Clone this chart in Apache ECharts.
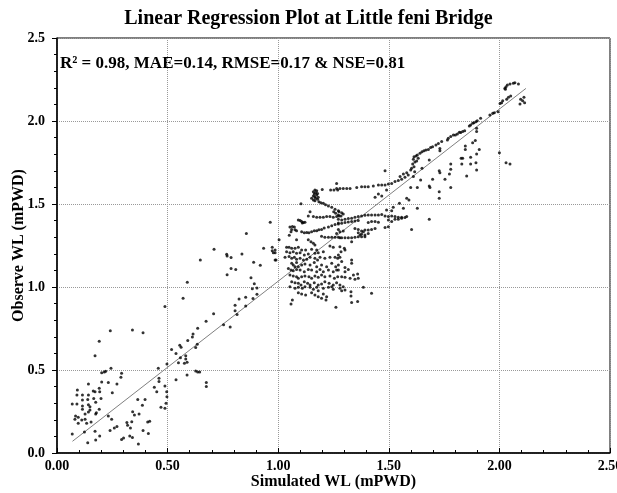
<!DOCTYPE html>
<html><head><meta charset="utf-8">
<script src="https://cdn.jsdelivr.net/npm/echarts@6/dist/echarts.min.js"></script>
<style>html,body{margin:0;padding:0;background:#fff}#c{width:617px;height:493px}</style>
</head><body><div id="c"></div>
<script>
const chartTitle = 'Linear Regression Plot at Little feni Bridge';
const statsText = 'R\u00b2 = 0.98, MAE=0.14, RMSE=0.17 & NSE=0.81';
const xName = 'Simulated WL (mPWD)';
const yName = 'Observe WL (mPWD)';
const fitRange = [0.07, 2.12];
const fitSlope = 1.037;
const fitIntercept = -0.002;

// [simulated, observed]
const lowPoints = [[0.488,0.882],[0.241,0.737],[0.341,0.741],[0.389,0.725],[0.191,0.673],[0.172,0.586],[0.518,0.624],[0.244,0.510],[0.202,0.484],[0.214,0.488],[0.220,0.492],[0.292,0.480],[0.289,0.456],[0.271,0.416],[0.232,0.424],[0.250,0.363],[0.202,0.428],[0.142,0.416],[0.092,0.380],[0.164,0.373],[0.172,0.369],[0.191,0.390],[0.193,0.369],[0.142,0.349],[0.115,0.349],[0.090,0.349],[0.199,0.329],[0.166,0.329],[0.139,0.323],[0.115,0.319],[0.069,0.295],[0.090,0.295],[0.115,0.283],[0.142,0.291],[0.175,0.305],[0.149,0.279],[0.191,0.263],[0.178,0.243],[0.115,0.263],[0.084,0.223],[0.096,0.215],[0.081,0.203],[0.127,0.235],[0.142,0.247],[0.149,0.259],[0.175,0.235],[0.112,0.199],[0.134,0.179],[0.154,0.187],[0.127,0.203],[0.096,0.179],[0.069,0.114],[0.124,0.127],[0.139,0.062],[0.172,0.131],[0.175,0.078],[0.193,0.102],[0.232,0.223],[0.247,0.203],[0.240,0.135],[0.259,0.151],[0.271,0.159],[0.292,0.082],[0.301,0.090],[0.316,0.183],[0.319,0.167],[0.332,0.151],[0.329,0.102],[0.342,0.249],[0.350,0.229],[0.338,0.189],[0.341,0.094],[0.365,0.323],[0.371,0.235],[0.386,0.287],[0.389,0.135],[0.398,0.323],[0.410,0.187],[0.419,0.191],[0.413,0.118],[0.368,0.054],[0.440,0.396],[0.451,0.369],[0.458,0.510],[0.461,0.450],[0.461,0.430],[0.488,0.404],[0.496,0.369],[0.497,0.339],[0.493,0.299],[0.488,0.269],[0.470,0.275],[0.497,0.536]];

const midPoints = [[0.964,1.390],[0.856,1.323],[0.710,1.227],[0.648,1.163],[0.767,1.197],[0.769,1.187],[0.787,1.177],[0.836,1.199],[0.934,1.233],[0.973,1.219],[0.986,1.207],[0.986,1.163],[0.889,1.149],[0.919,1.131],[0.787,1.112],[0.808,1.106],[0.769,1.074],[0.589,1.028],[0.877,1.056],[0.892,1.020],[0.883,0.990],[0.904,0.994],[0.904,0.956],[0.886,0.930],[0.853,0.938],[0.823,0.928],[0.805,0.890],[0.805,0.857],[0.814,0.835],[0.853,0.886],[0.570,0.932],[0.708,0.839],[0.674,0.793],[0.753,0.773],[0.783,0.759],[0.636,0.751],[0.615,0.717],[0.612,0.699],[0.591,0.677],[0.555,0.649],[0.561,0.637],[0.634,0.655],[0.627,0.635],[0.582,0.586],[0.582,0.566],[0.558,0.574],[0.538,0.600],[0.588,0.546],[0.576,0.540],[0.549,0.544],[0.627,0.494],[0.636,0.488],[0.645,0.488],[0.588,0.470],[0.538,0.442],[0.675,0.424],[0.675,0.400]];

const clusterPoints = [[1.264,1.624],[1.237,1.584],[1.252,1.584],[1.269,1.584],[1.199,1.588],[1.166,1.584],[1.174,1.580],[1.159,1.574],[1.169,1.568],[1.178,1.564],[1.163,1.560],[1.174,1.554],[1.159,1.548],[1.166,1.544],[1.181,1.540],[1.151,1.534],[1.169,1.534],[1.178,1.528],[1.159,1.524],[1.166,1.520],[1.184,1.514],[1.193,1.508],[1.204,1.505],[1.214,1.495],[1.227,1.488],[1.242,1.480],[1.257,1.468],[1.272,1.460],[1.103,1.501],[1.144,1.454],[1.136,1.428],[1.159,1.424],[1.174,1.420],[1.189,1.420],[1.204,1.420],[1.219,1.424],[1.234,1.424],[1.249,1.420],[1.264,1.424],[1.275,1.428],[1.251,1.454],[1.260,1.444],[1.091,1.404],[1.099,1.400],[1.106,1.394],[1.114,1.388],[1.121,1.390],[1.109,1.386],[1.053,1.361],[1.064,1.365],[1.073,1.361],[1.061,1.347],[1.076,1.345],[1.083,1.339],[1.058,1.333],[1.106,1.333],[1.118,1.327],[1.129,1.329],[1.139,1.327],[1.151,1.333],[1.163,1.339],[1.174,1.339],[1.184,1.345],[1.196,1.347],[1.208,1.355],[1.227,1.361],[1.242,1.369],[1.257,1.376],[1.272,1.386],[1.196,1.305],[1.211,1.299],[1.227,1.299],[1.242,1.299],[1.257,1.299],[1.272,1.299],[1.050,1.311],[1.004,1.285],[1.083,1.285],[1.136,1.285],[1.148,1.273],[1.159,1.263],[1.166,1.253],[0.973,1.239],[0.986,1.223],[0.978,1.207],[0.990,1.163],[1.038,1.239],[1.049,1.239],[1.061,1.233],[1.076,1.233],[1.091,1.239],[1.106,1.223],[1.124,1.223],[1.151,1.227],[1.174,1.223],[1.038,1.213],[1.053,1.207],[1.068,1.213],[1.083,1.203],[1.099,1.207],[1.118,1.193],[1.136,1.199],[1.166,1.203],[1.181,1.207],[1.204,1.213],[1.234,1.247],[1.249,1.239],[1.031,1.179],[1.049,1.183],[1.061,1.173],[1.073,1.179],[1.083,1.167],[1.099,1.173],[1.114,1.163],[1.129,1.167],[1.144,1.179],[1.166,1.173],[1.178,1.163],[1.189,1.179],[1.211,1.173],[1.234,1.179],[1.257,1.179],[1.269,1.173],[1.061,1.143],[1.068,1.133],[1.076,1.122],[1.083,1.147],[1.091,1.122],[1.106,1.133],[1.121,1.139],[1.144,1.133],[1.163,1.147],[1.174,1.122],[1.196,1.133],[1.219,1.122],[1.242,1.143],[1.260,1.122],[1.272,1.133],[1.046,1.112],[1.058,1.102],[1.068,1.098],[1.083,1.106],[1.099,1.102],[1.118,1.092],[1.136,1.106],[1.151,1.102],[1.174,1.092],[1.189,1.106],[1.204,1.092],[1.227,1.102],[1.249,1.092],[1.264,1.102],[1.053,1.072],[1.068,1.066],[1.083,1.062],[1.091,1.052],[1.106,1.062],[1.121,1.066],[1.139,1.062],[1.151,1.052],[1.166,1.066],[1.181,1.058],[1.196,1.072],[1.211,1.062],[1.234,1.066],[1.254,1.052],[1.269,1.062],[1.061,1.032],[1.076,1.026],[1.091,1.022],[1.103,1.012],[1.118,1.032],[1.133,1.022],[1.144,1.012],[1.163,1.026],[1.181,1.012],[1.196,1.018],[1.211,1.032],[1.230,1.022],[1.249,1.012],[1.264,1.026],[1.053,1.002],[1.076,0.992],[1.091,0.998],[1.109,0.992],[1.121,1.002],[1.144,0.998],[1.159,0.986],[1.174,0.998],[1.204,0.992],[1.227,0.998],[1.249,0.986],[1.091,0.966],[1.106,0.958],[1.124,0.952],[1.151,0.966],[1.166,0.952],[1.181,0.978],[1.204,0.958],[1.219,0.942],[1.216,0.922],[1.242,1.002],[1.058,0.898],[1.064,0.922],[1.181,0.942],[1.196,0.932],[1.261,0.878]];

const bandPoints = [[1.483,1.701],[1.551,1.665],[1.566,1.681],[1.581,1.689],[1.588,1.675],[1.573,1.661],[1.558,1.649],[1.543,1.641],[1.528,1.635],[1.513,1.624],[1.498,1.620],[1.483,1.614],[1.468,1.614],[1.453,1.614],[1.430,1.608],[1.407,1.604],[1.392,1.604],[1.377,1.604],[1.355,1.600],[1.325,1.594],[1.310,1.594],[1.294,1.594],[1.279,1.594],[1.264,1.594],[1.453,1.560],[1.468,1.548],[1.438,1.540],[1.490,1.584],[1.581,1.534],[1.591,1.524],[1.548,1.505],[1.275,1.454],[1.287,1.448],[1.272,1.434],[1.284,1.428],[1.294,1.440],[1.272,1.408],[1.287,1.404],[1.302,1.408],[1.317,1.412],[1.332,1.414],[1.347,1.420],[1.362,1.424],[1.377,1.428],[1.392,1.432],[1.407,1.434],[1.422,1.434],[1.438,1.434],[1.453,1.434],[1.468,1.436],[1.483,1.428],[1.498,1.424],[1.513,1.428],[1.528,1.424],[1.543,1.420],[1.558,1.420],[1.573,1.418],[1.581,1.424],[1.490,1.464],[1.513,1.460],[1.520,1.480],[1.566,1.474],[1.272,1.380],[1.287,1.384],[1.302,1.388],[1.317,1.392],[1.332,1.394],[1.347,1.398],[1.362,1.400],[1.407,1.388],[1.422,1.394],[1.438,1.394],[1.453,1.390],[1.498,1.404],[1.513,1.394],[1.528,1.408],[1.543,1.408],[1.558,1.414],[1.272,1.347],[1.264,1.323],[1.279,1.333],[1.294,1.337],[1.347,1.353],[1.362,1.347],[1.377,1.337],[1.392,1.343],[1.407,1.343],[1.422,1.347],[1.438,1.353],[1.483,1.359],[1.498,1.363],[1.362,1.327],[1.377,1.319],[1.392,1.313],[1.407,1.323],[1.370,1.313],[1.392,1.303],[1.385,1.333],[1.279,1.297],[1.287,1.297],[1.302,1.297],[1.317,1.297],[1.332,1.297],[1.347,1.299],[1.362,1.303],[1.377,1.303],[1.332,1.273],[1.279,1.243],[1.302,1.223],[1.284,1.213],[1.299,1.233],[1.272,1.193],[1.279,1.179],[1.287,1.153],[1.332,1.163],[1.332,1.143],[1.302,1.118],[1.272,1.102],[1.302,1.092],[1.317,1.106],[1.287,1.062],[1.302,1.058],[1.325,1.052],[1.340,1.072],[1.359,1.078],[1.362,1.052],[1.347,1.046],[1.279,1.012],[1.294,1.002],[1.279,0.992],[1.302,0.982],[1.287,0.978],[1.329,0.972],[1.329,0.946],[1.385,0.998],[1.422,0.962],[1.332,0.906],[1.359,0.912]];

const highPoints = [[2.070,2.231],[2.086,2.223],[2.063,2.227],[2.048,2.223],[2.036,2.217],[2.030,2.207],[2.025,2.197],[2.027,2.191],[2.111,2.143],[2.096,2.131],[2.105,2.122],[2.114,2.110],[2.093,2.102],[2.051,2.151],[2.041,2.143],[2.033,2.131],[2.015,2.122],[2.010,2.110],[2.003,2.106],[1.994,2.056],[1.977,2.050],[1.970,2.046],[1.957,2.036],[1.915,2.016],[1.900,2.002],[1.894,1.996],[1.885,1.990],[1.879,1.986],[1.870,1.976],[1.864,1.970],[1.843,1.942],[1.834,1.936],[1.825,1.930],[1.819,1.932],[1.810,1.922],[1.801,1.916],[1.792,1.916],[1.780,1.906],[1.769,1.896],[1.765,1.886],[1.739,1.876],[1.724,1.865],[1.713,1.855],[1.698,1.845],[1.689,1.841],[1.679,1.829],[1.668,1.825],[1.659,1.821],[1.650,1.815],[1.641,1.805],[1.629,1.795],[1.623,1.789],[1.614,1.785],[1.611,1.769],[1.633,1.775],[1.626,1.759],[1.618,1.753],[1.608,1.741],[1.614,1.725],[1.603,1.715],[1.599,1.705],[1.617,1.695],[1.611,1.665],[1.650,1.715],[1.897,1.956],[1.897,1.936],[1.891,1.882],[1.879,1.869],[1.909,1.829],[1.897,1.801],[1.870,1.781],[1.846,1.849],[1.846,1.829],[1.827,1.775],[1.834,1.775],[1.830,1.741],[1.894,1.749],[1.870,1.741],[1.897,1.705],[1.852,1.669],[1.780,1.741],[1.780,1.709],[1.774,1.681],[1.780,1.600],[1.731,1.835],[1.731,1.821],[1.683,1.765],[1.728,1.701],[1.731,1.689],[1.698,1.649],[1.683,1.608],[1.686,1.600],[1.644,1.645],[1.629,1.600],[1.754,1.649],[1.728,1.574],[1.728,1.534],[1.599,1.600],[2.000,1.809],[2.030,1.749],[2.048,1.741],[1.629,1.474],[1.683,1.408],[1.603,1.347]];

const allPoints = lowPoints.concat(midPoints, clusterPoints, bandPoints, highPoints);
const fitLine = fitRange.map(x => [x, fitSlope * x + fitIntercept]);

const serif = 'Liberation Serif, Times New Roman, serif';
const chart = echarts.init(document.getElementById('c'), null, {renderer: 'canvas'});
chart.setOption({
  animation: false,
  backgroundColor: '#fff',
  title: {
    text: chartTitle, left: 'center', top: 4,
    textStyle: {fontFamily: serif, fontWeight: 'bold', fontSize: 20, color: '#000'}
  },
  graphic: [{
    type: 'text', left: 60, top: 55,
    style: {text: statsText, font: 'bold 17px ' + serif, fill: '#000'}
  }],
  grid: {left: 57, right: 7, top: 38, bottom: 40, show: true, borderColor: '#000', borderWidth: 1,
         backgroundColor: 'transparent', containLabel: false, outerBoundsMode: 'none'},
  xAxis: {
    type: 'value', min: 0, max: 2.5, interval: 0.5,
    name: xName, nameLocation: 'middle', nameGap: 21, nameMoveOverlap: false,
    nameTextStyle: {fontFamily: serif, fontWeight: 'bold', fontSize: 16, color: '#000'},
    axisLine: {lineStyle: {color: '#000', width: 1.5}},
    axisTick: {show: true, inside: true, length: 5, lineStyle: {color: '#000'}},
    minorTick: {show: true, splitNumber: 5, length: 3, lineStyle: {color: '#000'}},
    axisLabel: {fontFamily: serif, fontWeight: 'bold', fontSize: 14, color: '#000', margin: 6, formatter: v => v.toFixed(2)},
    splitLine: {show: true, lineStyle: {color: '#999', type: 'dotted', width: 1}}
  },
  yAxis: {
    type: 'value', min: 0, max: 2.5, interval: 0.5,
    name: yName, nameLocation: 'middle', nameGap: 30, nameMoveOverlap: false,
    nameTextStyle: {fontFamily: serif, fontWeight: 'bold', fontSize: 16, color: '#000'},
    axisLine: {lineStyle: {color: '#000', width: 1.5}},
    axisTick: {show: true, inside: false, length: 5, lineStyle: {color: '#000'}},
    minorTick: {show: true, splitNumber: 5, length: 3, lineStyle: {color: '#000'}},
    axisLabel: {fontFamily: serif, fontWeight: 'bold', fontSize: 14, color: '#000', margin: 12, formatter: v => v.toFixed(1)},
    splitLine: {show: true, lineStyle: {color: '#999', type: 'dotted', width: 1}}
  },
  series: [
    {type: 'scatter', data: allPoints, symbol: 'circle', symbolSize: 3, itemStyle: {color: '#000'}, silent: true, z: 3},
    {type: 'line', data: fitLine, symbol: 'none', lineStyle: {color: '#808080', width: 1}, silent: true, z: 2}
  ]
});
</script>
</body></html>
